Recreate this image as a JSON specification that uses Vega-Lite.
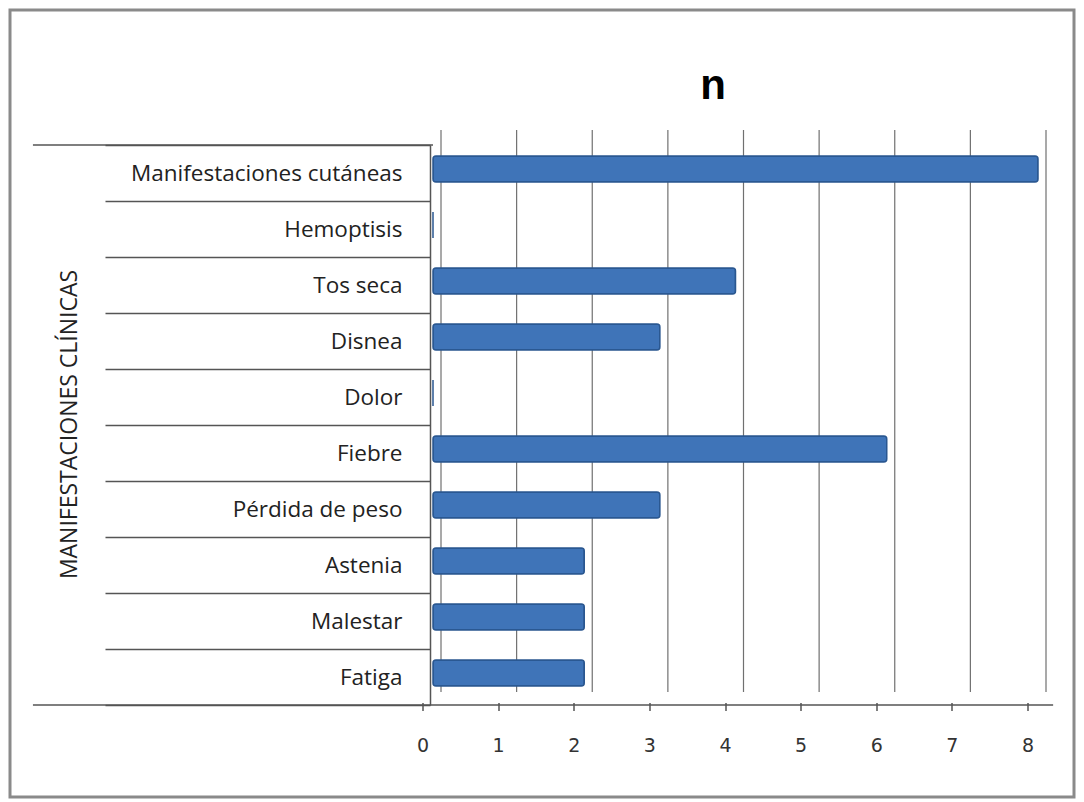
{
  "$schema": "https://vega.github.io/schema/vega-lite/v6.json",
  "width": 1064,
  "height": 787,
  "padding": {"left": 10, "top": 10, "right": 10, "bottom": 5},
  "autosize": {"type": "none"},
  "background": "white",
  "config": {
    "view": {"stroke": "#8a8a8a", "strokeWidth": 3},
    "font": "Open Sans"
  },
  "title": {
    "text": "n",
    "fontSize": 42,
    "font": "Liberation Sans",
    "fontWeight": "bold",
    "color": "#000000",
    "anchor": "middle",
    "dx": 171,
    "offset": -109
  },
  "data": {
    "values": [
      {"c": "Manifestaciones cutáneas", "n": 8},
      {"c": "Hemoptisis", "n": 0},
      {"c": "Tos seca", "n": 4},
      {"c": "Disnea", "n": 3},
      {"c": "Dolor", "n": 0},
      {"c": "Fiebre", "n": 6},
      {"c": "Pérdida de peso", "n": 3},
      {"c": "Astenia", "n": 2},
      {"c": "Malestar", "n": 2},
      {"c": "Fatiga", "n": 2}
    ]
  },
  "layer": [
    {
      "data": {"values": [{"v": 0}, {"v": 1}, {"v": 2}, {"v": 3}, {"v": 4}, {"v": 5}, {"v": 6}, {"v": 7}, {"v": 8}]},
      "mark": {"type": "tick", "orient": "vertical", "color": "#707070", "thickness": 1.2, "size": 562, "yOffset": 7.5, "xOffset": 8, "opacity": 1},
      "encoding": {
        "x": {"field": "v", "type": "quantitative"}
      }
    },
    {
      "mark": {"type": "bar", "color": "#3f74b8", "stroke": "#2a5790", "strokeWidth": 1.5, "cornerRadius": 3, "height": {"band": 0.46}, "yOffset": -4},
      "encoding": {
        "x": {
          "field": "n", "type": "quantitative",
          "scale": {"domain": [0, 8], "range": [423, 1028], "nice": false},
          "axis": {
            "values": [0, 1, 2, 3, 4, 5, 6, 7, 8],
            "format": "d",
            "title": null,
            "offset": -84,
            "translate": -10,
            "grid": false,
            "labelFlush": false,
            "domain": false,
            "tickColor": "#555555",
            "tickWidth": 1.5,
            "tickSize": 8,
            "labelFontSize": 19,
            "labelColor": "#333333",
            "labelPadding": 26,
            "labelFont": "DejaVu Sans"
          }
        },
        "y": {
          "field": "c", "type": "nominal", "sort": null,
          "scale": {"range": [135, 695], "paddingInner": 0, "paddingOuter": 0},
          "axis": {
            "title": "MANIFESTACIONES CLÍNICAS",
            "titleFontSize": 23,
            "titleFont": "Open Sans",
            "titleFontWeight": "normal",
            "titleColor": "#222222",
            "titleAngle": -90,
            "titleX": -361,
            "titleY": 414,
            "titleAlign": "center",
            "titleBaseline": "middle",
            "offset": -420,
            "domain": true,
            "domainColor": "#555555",
            "domainWidth": 1.5,
            "tickBand": "extent",
            "tickSize": 325,
            "tickColor": "#555555",
            "tickWidth": 1.5,
            "labelPadding": -297,
            "labelLimit": 0,
            "labelFontSize": 22.5,
            "labelColor": "#222222",
            "labelFont": "Open Sans"
          }
        }
      }
    },
    {
      "transform": [{"filter": "datum.c === 'Manifestaciones cutáneas'"}],
      "mark": {"type": "rule", "color": "#555555", "strokeWidth": 1.5},
      "encoding": {
        "x": {"datum": -5.29},
        "x2": {"datum": 0},
        "y": {"field": "c", "type": "nominal", "sort": null, "bandPosition": 0}
      }
    },
    {
      "transform": [{"filter": "datum.c === 'Fatiga'"}],
      "mark": {"type": "rule", "color": "#555555", "strokeWidth": 1.5},
      "encoding": {
        "x": {"datum": -5.29},
        "x2": {"datum": 8.2},
        "y": {"field": "c", "type": "nominal", "sort": null, "bandPosition": 1}
      }
    }
  ]
}
